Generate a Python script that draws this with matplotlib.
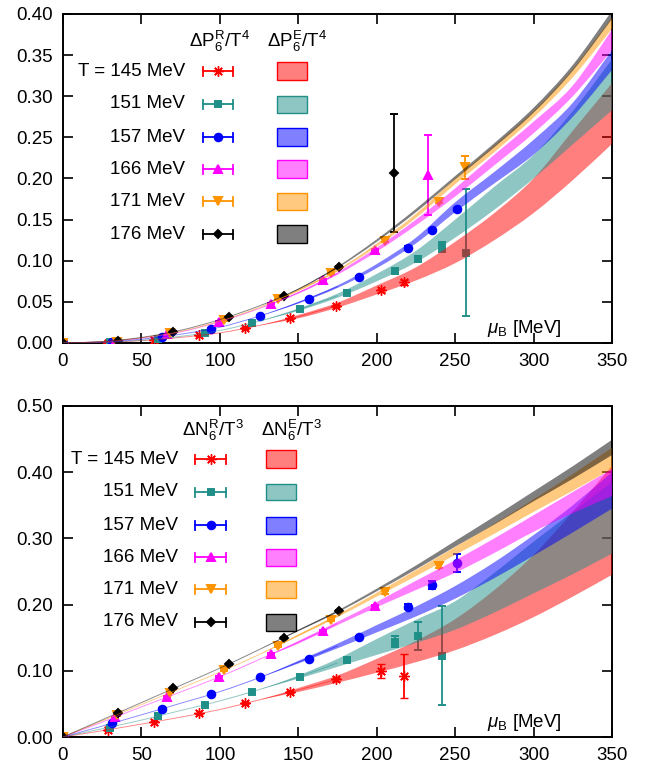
import matplotlib
matplotlib.use('Agg')
import matplotlib.pyplot as plt
from matplotlib.lines import Line2D
from matplotlib.patches import Rectangle, PathPatch
from matplotlib.path import Path
from matplotlib.ticker import FormatStrFormatter, MultipleLocator

plt.rcParams['font.family'] = ['Liberation Sans', 'DejaVu Sans']
plt.rcParams['mathtext.fontset'] = 'custom'
plt.rcParams['mathtext.rm'] = 'Liberation Sans'
plt.rcParams['mathtext.it'] = 'Liberation Sans:italic'
plt.rcParams['mathtext.bf'] = 'Liberation Sans:bold'

# ---------------- data ----------------
temps = [145, 151, 157, 166, 171, 176]
temp_labels = ['T = 145 MeV', '151 MeV', '157 MeV', '166 MeV', '171 MeV', '176 MeV']
colors = ['#ff0000', '#1f8f88', '#0000ff', '#ff00ff', '#ff9400', '#000000']
markers = [(8, 2, 0), 's', 'o', '^', 'v', 'D']
msizes = [7.5, 5, 5.5, 5.5, 5.5, 4]
mews = [1.0, 1.4, 1.4, 1.4, 1.4, 1.4]

mu_grid = [0, 25, 50, 75, 100, 125, 150, 175, 200, 225, 250, 275, 300, 325, 350]

# top panel: Delta P_6 / T^4  (lattice points)
p_x = {
    145: [0, 29, 58, 87, 116, 145, 174, 203, 217.5],
    151: [0, 30.2, 60.4, 90.6, 120.8, 151, 181.2, 211.4, 226.5, 241.6, 256.7],
    157: [0, 31.4, 62.8, 94.2, 125.6, 157, 188.4, 219.8, 235.5, 251.2],
    166: [0, 33.2, 66.4, 99.6, 132.8, 166, 199.2, 232.4],
    171: [0, 34.2, 68.4, 102.6, 136.8, 171, 205.2, 239.4, 256.5],
    176: [0, 35.2, 70.4, 105.6, 140.8, 176, 211.2],
}
p_y = {
    145: [0, 0.0006, 0.004, 0.0094, 0.018, 0.030, 0.045, 0.064, 0.074],
    151: [0, 0.0008, 0.005, 0.0125, 0.0247, 0.041, 0.061, 0.0875, 0.1025, 0.117, 0.110],
    157: [0, 0.0012, 0.0073, 0.017, 0.033, 0.054, 0.0806, 0.116, 0.137, 0.1625],
    166: [0, 0.0015, 0.0105, 0.026, 0.048, 0.0766, 0.113, 0.204],
    171: [0, 0.0016, 0.0118, 0.028, 0.053, 0.0847, 0.1244, 0.172, 0.2135],
    176: [0, 0.0024, 0.0138, 0.032, 0.0575, 0.092, 0.207],
}
p_err = {
    145: [0, 0.0004, 0.0006, 0.0008, 0.001, 0.001, 0.0015, 0.002, 0.003],
    151: [0, 0.0004, 0.0006, 0.0008, 0.001, 0.0012, 0.0015, 0.002, 0.003, 0.006, 0.077],
    157: [0, 0.0004, 0.0006, 0.0008, 0.001, 0.001, 0.0012, 0.0015, 0.002, 0.002],
    166: [0, 0.0004, 0.0006, 0.0008, 0.001, 0.0012, 0.0015, 0.0485],
    171: [0, 0.0004, 0.0006, 0.0008, 0.001, 0.0012, 0.0015, 0.002, 0.0137],
    176: [0, 0.0004, 0.0006, 0.0008, 0.001, 0.0012, 0.072],
}
# top panel bands (lower / upper edges on mu_grid)
p_lo = {
    145: [0, 0.0007, 0.0029, 0.0068, 0.0123, 0.0213, 0.030, 0.043, 0.059, 0.076, 0.097, 0.125, 0.158, 0.198, 0.242],
    151: [0, 0.0008, 0.0033, 0.0081, 0.0152, 0.0265, 0.039, 0.055, 0.075, 0.098, 0.128, 0.162, 0.200, 0.2415, 0.283],
    157: [0, 0.0012, 0.0047, 0.0107, 0.0192, 0.0326, 0.048, 0.067, 0.091, 0.121, 0.159, 0.194, 0.229, 0.275, 0.332],
    166: [0, 0.0015, 0.0060, 0.0135, 0.0260, 0.0419, 0.060, 0.083, 0.111, 0.143, 0.178, 0.216, 0.255, 0.300, 0.356],
    171: [0, 0.0016, 0.0063, 0.0142, 0.0265, 0.0431, 0.063, 0.087, 0.117, 0.152, 0.193, 0.232, 0.274, 0.323, 0.382],
    176: [0, 0.0017, 0.0068, 0.0155, 0.0285, 0.0450, 0.065, 0.091, 0.123, 0.159, 0.199, 0.238, 0.280, 0.331, 0.394],
}
p_hi = {
    145: [0, 0.0007, 0.0029, 0.0068, 0.0123, 0.0213, 0.034, 0.049, 0.070, 0.092, 0.123, 0.158, 0.200, 0.258, 0.316],
    151: [0, 0.0008, 0.0033, 0.0081, 0.0152, 0.0265, 0.042, 0.060, 0.084, 0.112, 0.150, 0.190, 0.2286, 0.282, 0.345],
    157: [0, 0.0012, 0.0047, 0.0107, 0.0192, 0.0326, 0.050, 0.070, 0.096, 0.128, 0.171, 0.208, 0.247, 0.292, 0.356],
    166: [0, 0.0015, 0.0060, 0.0135, 0.0260, 0.0419, 0.062, 0.086, 0.116, 0.150, 0.188, 0.229, 0.269, 0.313, 0.381],
    171: [0, 0.0016, 0.0063, 0.0142, 0.0265, 0.0431, 0.065, 0.089, 0.121, 0.157, 0.200, 0.240, 0.282, 0.333, 0.396],
    176: [0, 0.0017, 0.0068, 0.0155, 0.0285, 0.0450, 0.066, 0.093, 0.126, 0.163, 0.203, 0.243, 0.286, 0.338, 0.404],
}

# bottom panel: Delta N_6 / T^3 (lattice points)
n_x = {
    145: [0, 29, 58, 87, 116, 145, 174, 203, 217.5],
    151: [0, 30.2, 60.4, 90.6, 120.8, 151, 181.2, 211.4, 226.5, 241.6],
    157: [0, 31.4, 62.8, 94.2, 125.6, 157, 188.4, 219.8, 235.5, 251.2],
    166: [0, 33.2, 66.4, 99.6, 132.8, 166, 199.2],
    171: [0, 34.2, 68.4, 102.6, 136.8, 171, 205.2, 239.4],
    176: [0, 35.2, 70.4, 105.6, 140.8, 176],
}
n_y = {
    145: [0, 0.0106, 0.023, 0.0358, 0.051, 0.068, 0.087, 0.0993, 0.092],
    151: [0, 0.014, 0.0317, 0.049, 0.0685, 0.091, 0.116, 0.144, 0.152, 0.123],
    157: [0, 0.0206, 0.0423, 0.0645, 0.090, 0.118, 0.151, 0.197, 0.2296, 0.263],
    166: [0, 0.0297, 0.061, 0.091, 0.125, 0.1606, 0.198],
    171: [0, 0.033, 0.067, 0.101, 0.1375, 0.177, 0.2186, 0.259],
    176: [0, 0.0357, 0.0735, 0.110, 0.150, 0.190],
}
n_err = {
    145: [0, 0.001, 0.001, 0.001, 0.0012, 0.0015, 0.002, 0.0107, 0.033],
    151: [0, 0.001, 0.001, 0.001, 0.0012, 0.0015, 0.002, 0.0085, 0.021, 0.0745],
    157: [0, 0.001, 0.001, 0.001, 0.001, 0.0015, 0.002, 0.004, 0.006, 0.013],
    166: [0, 0.001, 0.001, 0.001, 0.0012, 0.0015, 0.002],
    171: [0, 0.001, 0.001, 0.001, 0.0012, 0.0015, 0.002, 0.004],
    176: [0, 0.001, 0.001, 0.001, 0.0012, 0.0015],
}
n_lo = {
    145: [0, 0.0095, 0.0195, 0.030, 0.0415, 0.056, 0.068, 0.082, 0.097, 0.113, 0.131, 0.154, 0.181, 0.212, 0.245],
    151: [0, 0.0125, 0.0255, 0.040, 0.0545, 0.0716, 0.088, 0.106, 0.124, 0.142, 0.162, 0.188, 0.217, 0.246, 0.277],
    157: [0, 0.0165, 0.0335, 0.051, 0.0685, 0.0895, 0.111, 0.134, 0.158, 0.182, 0.209, 0.240, 0.274, 0.309, 0.345],
    166: [0, 0.0225, 0.0455, 0.068, 0.091, 0.117, 0.141, 0.169, 0.196, 0.222, 0.248, 0.278, 0.310, 0.338, 0.364],
    171: [0, 0.0245, 0.049, 0.0735, 0.098, 0.1245, 0.152, 0.181, 0.212, 0.243, 0.275, 0.307, 0.340, 0.372, 0.405],
    176: [0, 0.026, 0.052, 0.078, 0.104, 0.132, 0.160, 0.188, 0.220, 0.253, 0.2875, 0.321, 0.356, 0.390, 0.426],
}
n_hi = {
    145: [0, 0.0095, 0.0195, 0.030, 0.0415, 0.056, 0.074, 0.093, 0.118, 0.145, 0.178, 0.222, 0.275, 0.340, 0.410],
    151: [0, 0.0125, 0.0255, 0.040, 0.0545, 0.0716, 0.093, 0.118, 0.148, 0.177, 0.205, 0.248, 0.295, 0.340, 0.385],
    157: [0, 0.0165, 0.0335, 0.051, 0.0685, 0.0895, 0.115, 0.141, 0.169, 0.197, 0.228, 0.264, 0.305, 0.350, 0.400],
    166: [0, 0.0225, 0.0455, 0.068, 0.091, 0.117, 0.145, 0.174, 0.204, 0.236, 0.267, 0.300, 0.335, 0.370, 0.405],
    171: [0, 0.0245, 0.049, 0.0735, 0.098, 0.1245, 0.155, 0.185, 0.218, 0.252, 0.287, 0.322, 0.359, 0.397, 0.437],
    176: [0, 0.026, 0.052, 0.078, 0.104, 0.132, 0.162, 0.191, 0.224, 0.259, 0.296, 0.333, 0.371, 0.409, 0.449],
}

# ---------------- figure ----------------
W, H = 651, 766
fig = plt.figure(figsize=(W / 100, H / 100), dpi=100)


def fx(x):
    return x / W


def fy(y):
    return 1 - y / H


def make_axes(left, top, right, bottom):
    return fig.add_axes([fx(left), fy(bottom), fx(right) - fx(left), fy(top) - fy(bottom)])


ax_top = make_axes(63, 14, 612, 343)
ax_bot = make_axes(63, 406, 612, 737)

FS = 13.5


def smooth_segments(xs, ys):
    """Cubic Bezier path through the given points (Catmull-Rom tangents)."""
    n = len(xs)
    verts = [(xs[0], ys[0])]
    codes = [Path.MOVETO]
    for i in range(n - 1):
        a, b = max(i - 1, 0), min(i + 2, n - 1)
        c1 = (xs[i] + (xs[i + 1] - xs[a]) / 6, ys[i] + (ys[i + 1] - ys[a]) / 6)
        c2 = (xs[i + 1] - (xs[b] - xs[i]) / 6, ys[i + 1] - (ys[b] - ys[i]) / 6)
        verts += [c1, c2, (xs[i + 1], ys[i + 1])]
        codes += [Path.CURVE4] * 3
    return verts, codes


def band_path(xs, lo, hi):
    v1, c1 = smooth_segments(xs, lo)
    v2, c2 = smooth_segments(xs[::-1], hi[::-1])
    c2 = [Path.LINETO] + c2[1:]
    verts = v1 + v2 + [v1[0]]
    codes = c1 + c2 + [Path.CLOSEPOLY]
    return Path(verts, codes)


def draw_panel(ax, xs, ys, es, los, his, ymax, ystep, xlab_y):
    for i, T in enumerate(temps):
        ax.errorbar(xs[T], ys[T], yerr=es[T], color=colors[i], marker=markers[i],
                    ms=msizes[i], mew=mews[i], lw=0, elinewidth=1.3, capsize=3,
                    capthick=1.3, zorder=3)
    for i, T in enumerate(temps):
        ax.add_patch(PathPatch(band_path(mu_grid, los[T], his[T]), facecolor=colors[i],
                               alpha=0.5, lw=0, zorder=4))
        mid = [(a + b) / 2 for a, b in zip(los[T], his[T])]
        v, c = smooth_segments(mu_grid[:8], mid[:8])
        ax.add_patch(PathPatch(Path(v, c), fill=False, edgecolor=colors[i], lw=0.7,
                               alpha=0.45, zorder=4))
    ax.set_xlim(0, 350)
    ax.set_ylim(0, ymax)
    ax.xaxis.set_major_locator(MultipleLocator(50))
    ax.yaxis.set_major_locator(MultipleLocator(ystep))
    ax.yaxis.set_major_formatter(FormatStrFormatter('%.2f'))
    ax.tick_params(direction='in', length=7, width=1.2, top=True, right=True,
                   labelsize=FS, pad=7)
    for s in ax.spines.values():
        s.set_linewidth(1.4)
    ax.text(0.909, xlab_y, r'$\mu_\mathrm{B}$ [MeV]', transform=ax.transAxes,
            ha='right', va='center', fontsize=FS, zorder=6)


draw_panel(ax_top, p_x, p_y, p_err, p_lo, p_hi, 0.40, 0.05, 0.045)
draw_panel(ax_bot, n_x, n_y, n_err, n_lo, n_hi, 0.50, 0.10, 0.044)


def draw_legend(head_y, rows_y, text_right, eb_l, eb_r, box_l, box_r, hdr1, hdr1_x, hdr2, hdr2_x):
    fig.text(fx(hdr1_x), fy(head_y), hdr1, ha='center', va='center', fontsize=FS)
    fig.text(fx(hdr2_x), fy(head_y), hdr2, ha='center', va='center', fontsize=FS)
    for i, (lab, y) in enumerate(zip(temp_labels, rows_y)):
        c = colors[i]
        fig.text(fx(text_right), fy(y), lab, ha='right', va='center', fontsize=FS)
        fig.add_artist(Line2D([fx(eb_l), fx(eb_r)], [fy(y), fy(y)], color=c, lw=1.3))
        for xc in (eb_l, eb_r):
            fig.add_artist(Line2D([fx(xc), fx(xc)], [fy(y - 4.5), fy(y + 4.5)], color=c, lw=1.3))
        fig.add_artist(Line2D([fx((eb_l + eb_r) / 2)], [fy(y)], color=c, marker=markers[i],
                              ms=msizes[i], mew=mews[i], lw=0))
        fig.add_artist(Rectangle((fx(box_l), fy(y + 8.5)), fx(box_r) - fx(box_l),
                                 fy(y - 8.5) - fy(y + 8.5), facecolor=c, alpha=0.5,
                                 edgecolor='none'))
        fig.add_artist(Rectangle((fx(box_l), fy(y + 8.5)), fx(box_r) - fx(box_l),
                                 fy(y - 8.5) - fy(y + 8.5), facecolor='none',
                                 edgecolor=c, lw=1.0))


draw_legend(41, [71, 104, 137, 169, 201, 234], 185, 203, 233, 277, 307,
            r'$\mathrm{\Delta P_6^R/T^4}$', 219, r'$\mathrm{\Delta P_6^E/T^4}$', 297)
draw_legend(430, [459, 492, 525, 557, 589, 622], 178, 195, 226, 266, 296,
            r'$\mathrm{\Delta N_6^R/T^3}$', 213, r'$\mathrm{\Delta N_6^E/T^3}$', 292)

fig.savefig('out.png', dpi=100)
